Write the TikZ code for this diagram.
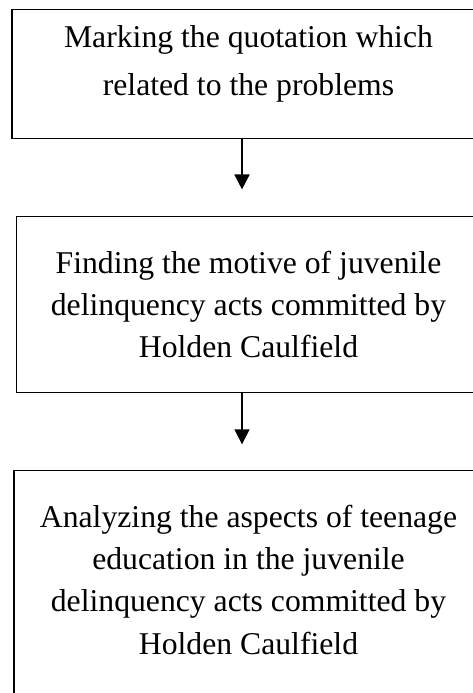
\documentclass[tikz,border=0pt]{standalone}
\usepackage{fontspec}
\setmainfont{Liberation Serif}
\usetikzlibrary{arrows.meta}
\tikzset{stagebox/.style={draw, line width=1.3pt, text width=440pt, align=flush center, inner sep=0pt,
    font=\fontsize{31.7}{42.3}\selectfont},
  stagearrow/.style={line width=1.6pt, -{Triangle[width=15pt,length=15pt]}}}

\begin{document}
\begin{tikzpicture}[x=1pt,y=1pt]
\useasboundingbox (0,0) rectangle (473,693);
\node[stagebox, line width=1.8pt, minimum width=473.6pt, minimum height=129pt,
  font=\fontsize{31.7}{48}\selectfont] (marking) at (248.5,619)
  {Marking the quotation which\\related to the problems\par\vspace*{21pt}\hrule height 0pt};
\node[stagebox, minimum width=464pt, minimum height=176pt] (finding) at (248.5,388.4)
  {Finding the motive of juvenile\\delinquency acts committed by\\Holden Caulfield};
\node[stagebox, minimum width=469pt, minimum height=227.5pt] (analyzing) at (248.5,108.75)
  {Analyzing the aspects of teenage\\education in the juvenile\\delinquency acts committed by\\Holden Caulfield\par\vspace*{9pt}\hrule height 0pt};
\draw[stagearrow, shorten >=26.5pt] ([xshift=-6.5pt]marking.south) -- ([xshift=-6.5pt]finding.north);
\draw[stagearrow, shorten >=25.5pt] ([xshift=-6.5pt]finding.south) -- ([xshift=-6.5pt]analyzing.north);
\end{tikzpicture}
\end{document}
